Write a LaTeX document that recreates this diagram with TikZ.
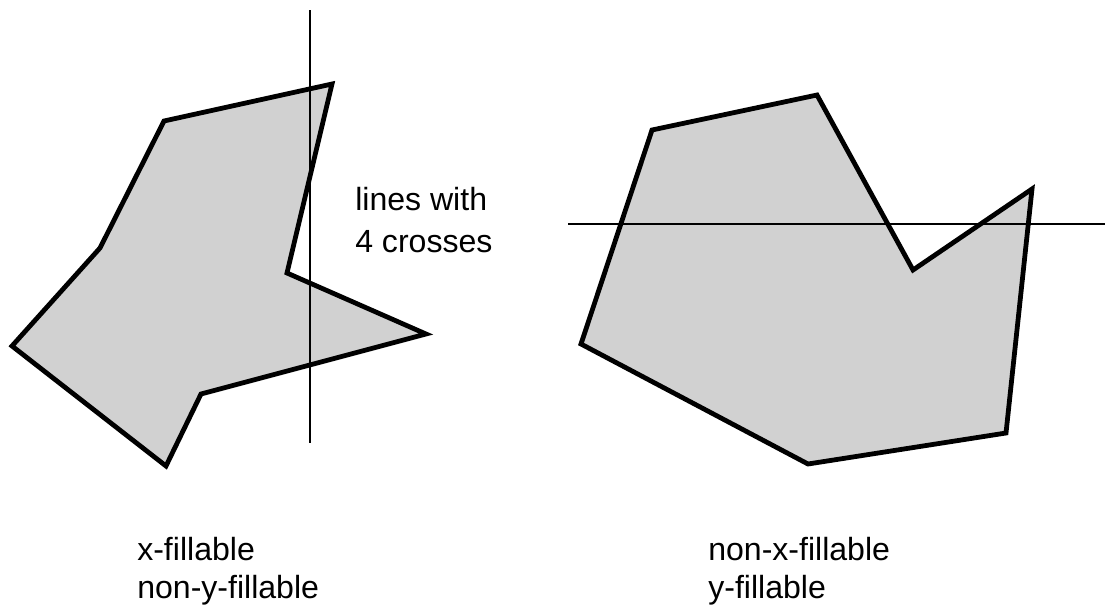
\documentclass[tikz,border=0pt]{standalone}
\usepackage{fontspec}
\setmainfont{Liberation Sans}
\usepackage{tikz}
\usetikzlibrary{positioning}
\tikzset{
  region/.style = {draw=black, fill=black!18, line width=3.4pt, line join=miter},
  cutline/.style = {draw=black, line width=2pt},
  label/.style  = {anchor=north west, inner sep=0pt, align=left,
                   font=\fontsize{22.8}{29.5}\selectfont},
  caption/.style = {anchor=north west, inner sep=0pt, align=left,
                   font=\fontsize{22.8}{27}\selectfont},
}
\begin{document}
\begin{tikzpicture}[x=0.025cm, y=-0.025cm]
    \useasboundingbox (0,0) rectangle (1108,605);

    %% x-fillable polygon with vertical line
    \draw[region] (164,121) -- (332,84) -- (287,273) -- (426,334) -- (201,394)
         -- (166,466) -- (12,346) -- (100,248) -- cycle;
    \coordinate (vtop) at (310,10);
    \coordinate (vbot) at (310,443);
    \draw[cutline] (vtop) -- (vbot);
    \node[label] (cross) at (355,187) {lines with\\4 crosses};

    %% y-fillable polygon with horizontal line
    \draw[region] (652,130) -- (817,95) -- (913,270) -- (1032,189) -- (1006,433)
         -- (808,464) -- (581,344) -- cycle;
    \coordinate (hleft) at (568,224);
    \coordinate (hright) at (1105,224);
    \draw[cutline] (hleft) -- (hright);

    %% captions
    \node[caption] (capl) at (137,537) {x-fillable\\non-y-fillable};
    \node[caption] (capr) at (708,537) {non-x-fillable\\y-fillable};

\end{tikzpicture}
\end{document}
